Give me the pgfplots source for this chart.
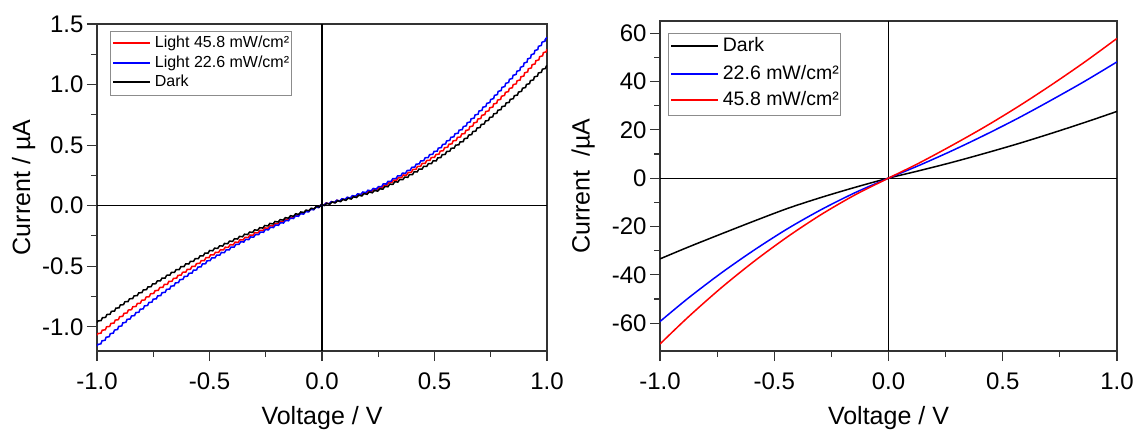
\documentclass[border=0pt]{standalone}
\usepackage{fontspec}
\setmainfont{Liberation Sans}
\usepackage{pgfplots}
\pgfplotsset{compat=1.18}
\usetikzlibrary{decorations.pathmorphing}

\pgfplotsset{
  ivstyle/.style={
    scale only axis,
    axis line style={black!80, line width=1.2pt},
    tick align=outside,
    xtick pos=bottom, ytick pos=left,
    major tick length=10pt, minor tick length=6pt,
    every tick/.style={black!80, line width=1.1pt},
    minor tick num=1,
    /pgf/number format/assume math mode=true,
    tick label style={font=\fontsize{24}{24}\selectfont},
    label style={font=\fontsize{25}{25}\selectfont},
    xmin=-1, xmax=1,
    xtick={-1,-0.5,0,0.5,1},
    xticklabel style={yshift=-8pt, /pgf/number format/fixed, /pgf/number format/precision=1,
                      /pgf/number format/fixed zerofill},
    extra x ticks={0}, extra y ticks={0},
    extra x tick labels={}, extra y tick labels={},
    extra tick style={grid=major, major tick length=0pt,
                      major grid style={black, line width=1.1pt}},
    xlabel={Voltage / V},
  },
}

% left panel, µA
\pgfplotstableread{
V       dark    blue    red
-1.0    -0.965  -1.16   -1.07
-0.875  -0.80   -0.96   -0.89
-0.75   -0.65   -0.78   -0.72
-0.625  -0.51   -0.61   -0.565
-0.5    -0.38   -0.45   -0.42
-0.375  -0.27   -0.32   -0.30
-0.25   -0.17   -0.205  -0.19
-0.125  -0.083  -0.10   -0.093
 0.0     0.0     0.0     0.0
 0.125   0.055   0.065   0.06
 0.25    0.125   0.145   0.135
 0.375   0.235   0.275   0.255
 0.5     0.37    0.44    0.405
 0.625   0.535   0.64    0.59
 0.75    0.73    0.87    0.81
 0.875   0.935   1.12    1.04
 1.0     1.157   1.39    1.29
}\lefttable

% right panel, µA
\pgfplotstableread{
V       dark    blue    red
-1.0    -33.4   -59.3   -68.6
-0.876  -28.5   -49.6   -57.4
-0.73   -23.0   -39.1   -45.2
-0.584  -17.6   -29.5   -34.1
-0.438  -12.4   -20.7   -24.0
-0.292  -7.9    -12.9   -14.9
-0.146  -3.8    -6.0    -6.9
 0.0     0.0     0.0     0.0
 0.131   3.0     5.15    6.1
 0.277   6.5    11.3    13.5
 0.423  10.3    17.9    21.3
 0.569  14.3    24.9    29.7
 0.715  18.6    32.4    38.7
 0.861  23.1    40.2    48.2
 1.0    27.6    48.1    57.8
}\righttable

\newcommand{\lgline}[2]{\tikz[baseline=-0.55ex]\draw[#1, line width=1.5pt] (0pt,0pt) -- (#2,0pt);}

\begin{document}
\begin{tikzpicture}
\path (0pt,0pt) rectangle (1138pt,428pt);

\begin{axis}[ivstyle,
  at={(97pt,77pt)}, anchor=south west,
  width=450pt, height=327pt,
  ymin=-1.2, ymax=1.5,
  ytick={-1,-0.5,0,0.5,1,1.5},
  yticklabel style={/pgf/number format/fixed, /pgf/number format/precision=1,
                    /pgf/number format/fixed zerofill},
  ylabel={Current / µA},
  ylabel style={yshift=-10pt},
  wig/.style={line width=1.5pt, decorate,
              decoration={snake, segment length=5.5pt, amplitude=0.8pt}},
]
\addplot[red, wig] table[x=V, y=red] {\lefttable};
\addplot[blue, wig] table[x=V, y=blue] {\lefttable};
\addplot[black, wig] table[x=V, y=dark] {\lefttable};
\end{axis}

\begin{axis}[ivstyle,
  at={(660pt,77pt)}, anchor=south west,
  width=457pt, height=330pt,
  ymin=-71.5, ymax=65,
  ytick={-60,-40,-20,0,20,40,60},
  ylabel={Current \ /µA},
]
\addplot[black, line width=1.5pt, smooth] table[x=V, y=dark] {\righttable};
\addplot[blue, line width=1.5pt, smooth] table[x=V, y=blue] {\righttable};
\addplot[red, line width=1.5pt, smooth] table[x=V, y=red] {\righttable};
\end{axis}

% legends
\node[draw=black!45, line width=0.8pt, fill=white, anchor=north west,
      inner xsep=2pt, inner ysep=3pt, font=\fontsize{16}{19}\selectfont]
  at (110pt,397pt) {%
  \begin{tabular}{@{}l@{\hspace{4pt}}l@{}}
  \lgline{red}{37pt} & Light 45.8 mW/cm²\\[1pt]
  \lgline{blue}{37pt} & Light 22.6 mW/cm²\\
  \lgline{black}{37pt} & Dark
  \end{tabular}};

\node[draw=black!45, line width=0.8pt, fill=white, anchor=north west,
      inner xsep=2pt, inner ysep=3pt, font=\fontsize{19.5}{22}\selectfont]
  at (668pt,395pt) {%
  \begin{tabular}{@{}l@{\hspace{4pt}}l@{}}
  \lgline{black}{47pt} & Dark\\[6pt]
  \lgline{blue}{47pt} & 22.6 mW/cm²\\[4pt]
  \lgline{red}{47pt} & 45.8 mW/cm²
  \end{tabular}};
\end{tikzpicture}
\end{document}
